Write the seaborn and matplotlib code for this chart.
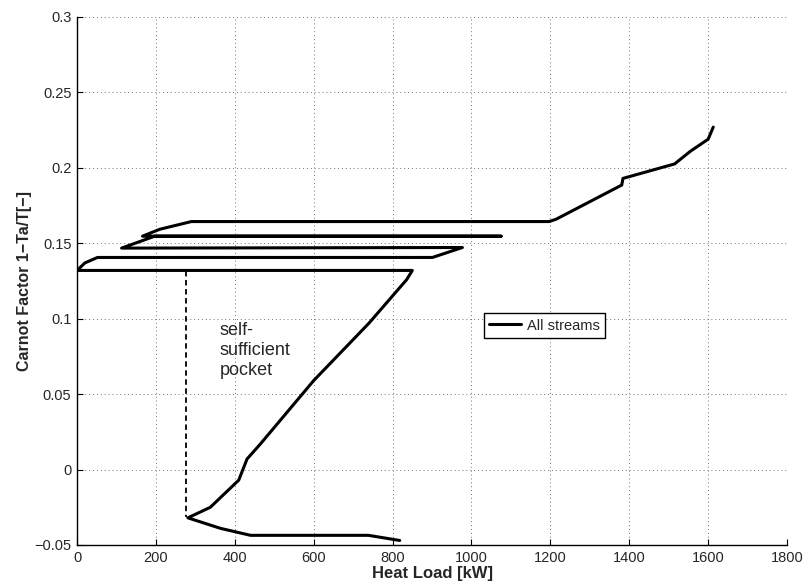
import matplotlib
matplotlib.use('Agg')
import matplotlib.pyplot as plt
import seaborn as sns

# grand composite curve, path order from the low end (bottom right) to the top
heat_load = [818, 739, 440, 364, 281, 338, 410, 431, 465, 600, 740, 836, 850,
             0, 20, 52, 901, 977, 113, 197, 1075, 166, 210, 290, 1197, 1215,
             1381, 1384, 1515, 1555, 1600, 1613]
carnot = [-0.047, -0.0436, -0.0436, -0.039, -0.032, -0.025, -0.007, 0.007, 0.017,
          0.059, 0.097, 0.126, 0.132, 0.132, 0.137, 0.1406, 0.1406, 0.1472,
          0.1468, 0.1547, 0.1547, 0.1547, 0.1593, 0.1644, 0.1644, 0.166,
          0.1886, 0.193, 0.2026, 0.211, 0.219, 0.227]

# dashed marker of the self-sufficient pocket
pocket_x = [276, 276]
pocket_y = [0.1315, -0.0315]

xticks = [0, 200, 400, 600, 800, 1000, 1200, 1400, 1600, 1800]
yticks = [-0.05, 0, 0.05, 0.1, 0.15, 0.2, 0.25, 0.3]

sns.set_theme(style='ticks')
plt.rcParams['font.family'] = ['Liberation Sans', 'DejaVu Sans']
plt.rcParams['xtick.direction'] = 'in'
plt.rcParams['ytick.direction'] = 'in'

fig = plt.figure(figsize=(8.04, 5.84), dpi=100)
ax = fig.add_axes([0.0958, 0.0668, 0.8831, 0.9041])

sns.lineplot(x=heat_load, y=carnot, sort=False, estimator=None, color='black',
             linewidth=2.2, label='All streams', ax=ax)
sns.lineplot(x=pocket_x, y=pocket_y, sort=False, estimator=None, color='black',
             linewidth=1.3, linestyle=(0, (3, 2)), legend=False, ax=ax)

ax.text(362, 0.0975, 'self-\nsufficient\npocket', fontsize=13, va='top',
        ha='left', linespacing=1.2)

ax.set_xlim(0, 1800)
ax.set_ylim(-0.05, 0.3)
ax.set_xticks(xticks)
ax.set_yticks(yticks)
ax.set_xticklabels([str(v) for v in xticks])
ax.set_yticklabels(['\u22120.05', '0', '0.05', '0.1', '0.15', '0.2', '0.25', '0.3'])
ax.tick_params(labelsize=10.5, length=4, width=0.8, color='black', pad=4)
ax.grid(True, linestyle=(0, (1, 3)), color='0.45', linewidth=0.7)

for side in ['top', 'right']:
    ax.spines[side].set_visible(False)
for side in ['left', 'bottom']:
    ax.spines[side].set_color('black')
    ax.spines[side].set_linewidth(1.0)

ax.set_xlabel('Heat Load [kW]', fontsize=12, fontweight='bold', labelpad=1)
ax.set_ylabel('Carnot Factor 1\u2212Ta/T[\u2212]', fontsize=11.5, fontweight='bold',
              labelpad=2)

leg = ax.legend(loc='center', bbox_to_anchor=(0.6582, 0.4157), fontsize=10.5,
                fancybox=False, framealpha=1, edgecolor='black',
                handlelength=2.2, handletextpad=0.4, borderpad=0.35)
leg.get_frame().set_linewidth(1.0)

fig.savefig('out.png', dpi=100)
